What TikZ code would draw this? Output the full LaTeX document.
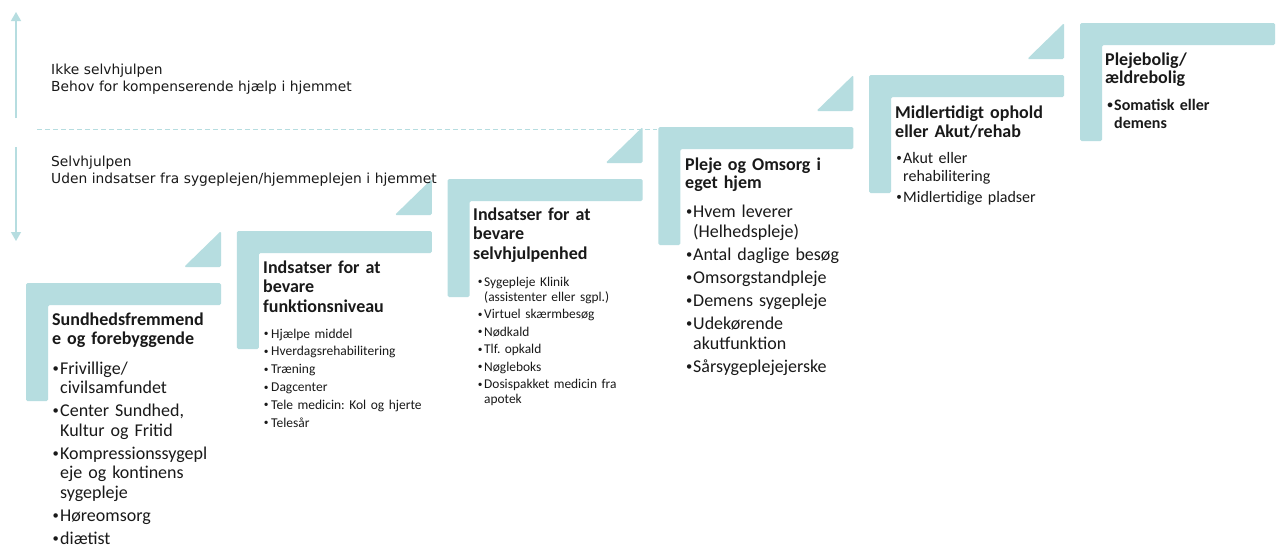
\documentclass[tikz,border=0pt]{standalone}
\usepackage{fontspec}
\usepackage{graphicx}
\setmainfont{Carlito}
\newfontfamily\verd{DejaVu Sans}
\usetikzlibrary{arrows.meta}
\definecolor{stepteal}{RGB}{182,221,224}
\definecolor{ink}{RGB}{25,25,25}
\newlength{\bw}
\newcommand{\bul}{\makebox[\bw][c]{\raisebox{0.1em}{\scalebox{0.7}{\textbullet}}}} % bullet in a box of width \bw
\newcommand{\nxt}{\hspace*{\bw}} % indent of a wrapped line
\frenchspacing
\tikzset{
    x=1pt, y=-1pt, % one unit is one pixel of the reference, y runs down
    stepbar/.style={fill=stepteal, rounded corners=1.5pt}, % the L-shaped steps and the corner wedges
    level/.style={draw=stepteal, line width=1.3pt, -{Triangle[width=10pt,length=9pt]}}, % arrows on the left
    divide/.style={draw=stepteal, line width=1pt, dash pattern=on 4.5pt off 3.5pt}, % the dashed border
    side/.style={anchor=base west, inner sep=0pt, text width=440pt, align=left, text=ink,
        font=\verd\fontsize{13.8}{17}\selectfont}, % the two texts on the left
    title/.style={anchor=base west, inner sep=0pt, text width=190pt, align=left, text=ink,
        font=\bfseries\fontsize{18}{#1}\selectfont}, % heading of a step
    title/.default=19.5,
    items/.style n args={3}{anchor=base west, inner sep=0pt, text width=200pt, align=left, text=ink,
        font=\fontsize{#1}{#2}\selectfont\setlength{\bw}{#3}}, % bullet list of a step
}
\begin{document}
\begin{tikzpicture}
\clip (0,0) rectangle (1277,544);
\fill[white] (0,0) rectangle (1277,544);

% arrows and border on the left
\coordinate (upfoot) at (16,118);
\coordinate (uptip) at (16,12);
\coordinate (downtop) at (16,147);
\coordinate (downtip) at (16,241);
\coordinate (lineL) at (37,129);
\coordinate (lineR) at (657,129);
\draw[level] (upfoot) -- (uptip);
\draw[level] (downtop) -- (downtip);
\draw[divide] (lineL) -- (lineR);

% the steps
\foreach \i in {0,...,5}{
    \pgfmathsetmacro{\sx}{26+210.8*\i}
    \pgfmathsetmacro{\sy}{283-52*\i}
    \fill[stepbar] (\sx,\sy) -- ++(195,0) -- ++(0,22) -- ++(-173,0) -- ++(0,96) -- ++(-22,0) -- cycle;
}
\foreach \i in {0,...,4}{
    \pgfmathsetmacro{\sx}{26+210.8*\i}
    \pgfmathsetmacro{\sy}{283-52*\i}
    \fill[stepbar] (\sx+195,\sy-52) -- (\sx+195,\sy-16) -- (\sx+158,\sy-16) -- cycle;
}

\node[side] (ikke) at (51,74) {Ikke selvhjulpen\\ Behov for kompenserende hjælp i hjemmet};
\node[side] (selv) at (51,166) {Selvhjulpen\\ Uden indsatser fra sygeplejen/hjemmeplejen i hjemmet};

% step 1
\node[title] (sund) at (52,325) {Sundhedsfremmend\\ e og forebyggende};
\node[items={18}{19.5}{9pt}] (sundlist) at (51,374) {\bul Frivillige/\\ \nxt civilsamfundet\\[3.5pt]
    \bul Center Sundhed,\\ \nxt Kultur og Fritid\\[3.5pt]
    \bul Kompressionssygepl\\ \nxt eje og kontinens\\ \nxt sygepleje\\[3.5pt]
    \bul Høreomsorg\\[3.5pt]
    \bul diætist};

% step 2
\node[title] (funk) at (263,273) {Indsatser for at\\ bevare\\ funktionsniveau};
\node[items={13.5}{17.8}{10pt}] (funklist) at (261,338) {\bul Hjælpe middel\\ \bul Hverdagsrehabilitering\\
    \bul Træning\\ \bul Dagcenter\\ \bul Tele medicin: Kol og hjerte\\ \bul Telesår};

% step 3
\node[title] (hjulp) at (473,220) {Indsatser for at\\ bevare\\ selvhjulpenhed};
\node[items={13.4}{15}{8pt}] (hjulplist) at (476,286) {\bul Sygepleje Klinik\\ \nxt (assistenter eller sgpl.)\\[2.5pt]
    \bul Virtuel skærmbesøg\\[2.5pt] \bul Nødkald\\[2.5pt] \bul Tlf. opkald\\[2.5pt] \bul Nøgleboks\\[2.5pt]
    \bul Dosispakket medicin fra\\ \nxt apotek};

% step 4
\node[title=18.5] (pleje) at (685,170) {Pleje og Omsorg i\\ eget hjem};
\node[items={18}{20}{8pt}] (plejelist) at (685,217) {\bul Hvem leverer\\ \nxt (Helhedspleje)\\[3pt]
    \bul Antal daglige besøg\\[3pt] \bul Omsorgstandpleje\\[3pt] \bul Demens sygepleje\\[3pt]
    \bul Udekørende\\ \nxt akutfunktion\\[3pt] \bul Sårsygeplejejerske};

% step 5
\node[title=19] (midl) at (895,118) {Midlertidigt ophold\\ eller Akut/rehab};
\node[items={16}{18}{8pt}] (midllist) at (895,163) {\bul Akut eller\\ \nxt rehabilitering\\[3pt]
    \bul Midlertidige pladser};

% step 6
\node[title=18] (bolig) at (1105,65) {Plejebolig/\\ ældrebolig};
\node[items={16}{18}{8pt}] (boliglist) at (1106,110) {\bfseries\bul Somatisk eller\\ \nxt demens};
\end{tikzpicture}
\end{document}
